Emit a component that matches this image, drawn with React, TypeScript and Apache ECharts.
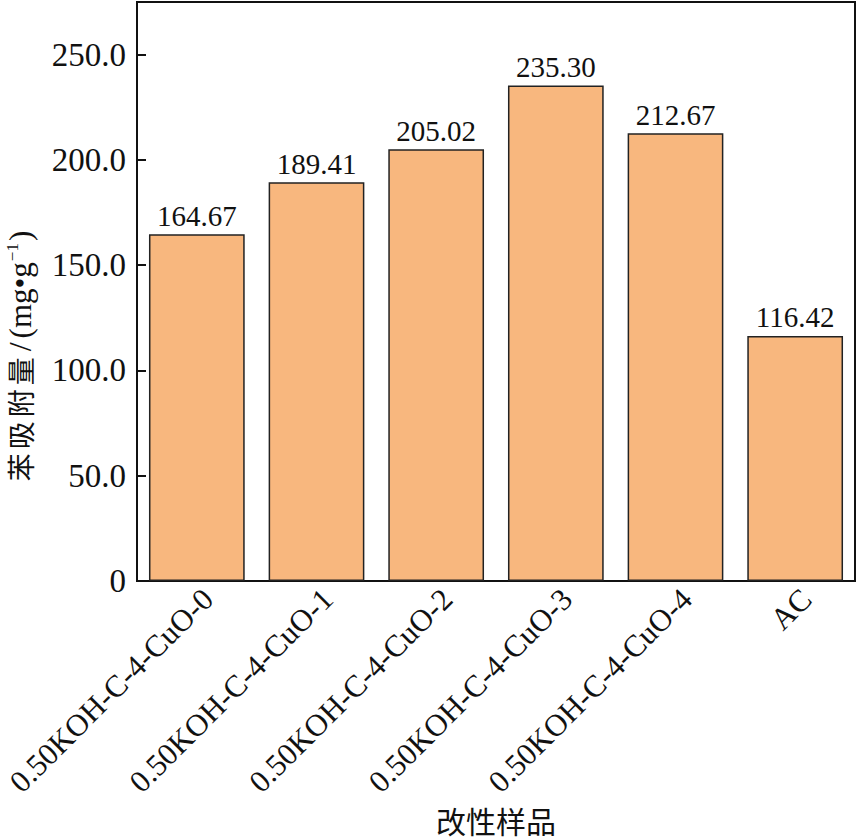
import React, { useEffect, useRef } from "react";
import * as echarts from "echarts";

const categories = [
  "0.50KOH-C-4-CuO-0",
  "0.50KOH-C-4-CuO-1",
  "0.50KOH-C-4-CuO-2",
  "0.50KOH-C-4-CuO-3",
  "0.50KOH-C-4-CuO-4",
  "AC",
];
const values = [164.67, 189.41, 205.02, 235.3, 212.67, 116.42];
const yTicks = [0, 50, 100, 150, 200, 250];
const yAxisTitleCJK = ["苯", "吸", "附", "量"];
const yAxisTitleUnit = "(mg•g";
const yAxisTitleSup = "−1";
const xAxisTitle = "改性样品";

const FONT = '"Liberation Serif", "Noto Sans CJK SC", serif';

export default function App() {
  const ref = useRef<HTMLDivElement>(null);
  useEffect(() => {
    if (!ref.current) return;
    const chart = echarts.init(ref.current, null, { renderer: "svg" });
    const yTitle =
      yAxisTitleCJK.map((c) => `{c|${c}}`).join("") +
      `{sl|/}{u|${yAxisTitleUnit}}{sup|${yAxisTitleSup}}{u|)}`;
    chart.setOption({
      animation: false,
      backgroundColor: "#fff",
      textStyle: { fontFamily: FONT },
      grid: {
        left: 137,
        right: 3,
        top: 2,
        bottom: 258,
        show: true,
        borderColor: "#111",
        borderWidth: 2,
        backgroundColor: "transparent",
        containLabel: false,
        outerBoundsMode: "none",
      },
      graphic: [
        {
          type: "text",
          x: 20,
          y: 357,
          rotation: Math.PI / 2,
          style: {
            text: yTitle,
            textAlign: "center",
            textVerticalAlign: "middle",
            fill: "#111",
            rich: {
              c: { fontSize: 28, fontFamily: '"Noto Sans CJK SC"', padding: [0, 2, 0, 2], fill: "#111" },
              sl: { fontSize: 32, fontFamily: FONT, padding: [0, 4, 0, 4], fill: "#111" },
              u: { fontSize: 31, fontFamily: FONT, fill: "#111" },
              sup: { fontSize: 17, fontFamily: FONT, verticalAlign: "top", fill: "#111", padding: [0, 2, 0, 1] },
            },
          },
        },
      ],
      xAxis: {
        type: "category",
        data: categories,
        name: xAxisTitle,
        nameLocation: "middle",
        nameGap: 226,
        nameTextStyle: { fontSize: 30, color: "#111", fontFamily: FONT },
        axisLine: { lineStyle: { color: "#111", width: 2 } },
        axisTick: { show: false },
        axisLabel: {
          rotate: 45,
          fontSize: 31,
          color: "#111",
          margin: 2,
          interval: 0,
          verticalAlign: "top",
          fontFamily: FONT,
        },
      },
      yAxis: {
        type: "value",
        min: 0,
        max: 275,
        interval: 50,
        axisLine: { show: true, lineStyle: { color: "#111", width: 2 } },
        axisTick: { show: true, inside: true, length: 9, lineStyle: { color: "#111", width: 2 } },
        splitLine: { show: false },
        axisLabel: {
          fontSize: 33,
          color: "#111",
          margin: 11,
          fontFamily: FONT,
          showMaxLabel: false,
          formatter: (v: number) =>
            yTicks.includes(v) ? (v === 0 ? "0" : v.toFixed(1)) : "",
        },
      },
      series: [
        {
          type: "bar",
          data: values,
          barCategoryGap: "20%",
          itemStyle: { color: "#F8B77E", borderColor: "#222", borderWidth: 1.5 },
          label: {
            show: true,
            position: "top",
            distance: 4,
            fontSize: 29,
            color: "#111",
            fontFamily: FONT,
            formatter: (p: any) => p.value.toFixed(2),
          },
        },
      ],
    });
    return () => chart.dispose();
  }, []);
  return <div ref={ref} style={{ width: 858, height: 839, position: "absolute", left: 0, top: 0 }} />;
}
